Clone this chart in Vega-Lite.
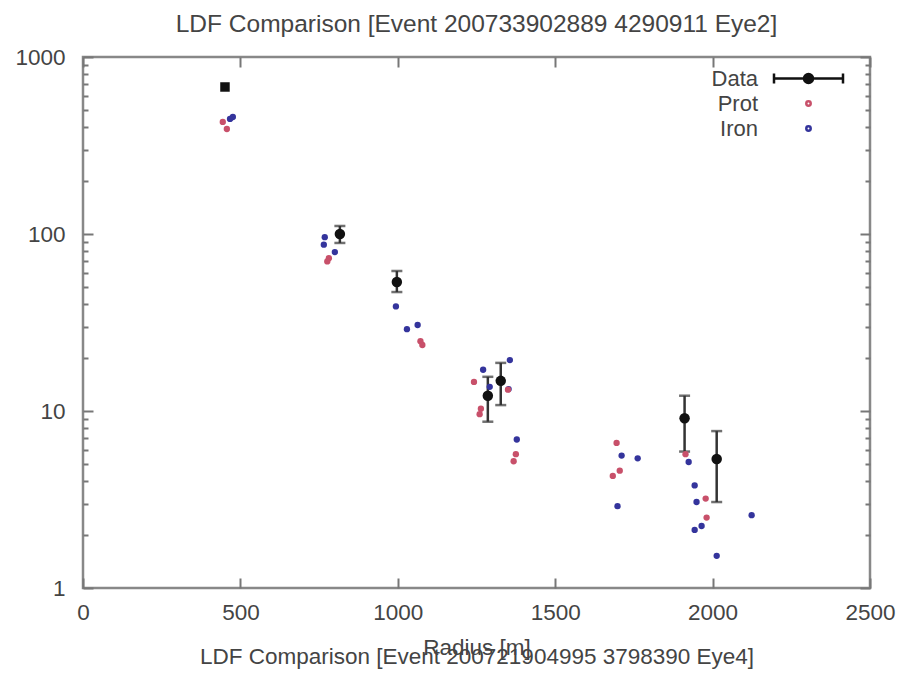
{
  "$schema": "https://vega.github.io/schema/vega-lite/v6.json",
  "width": 787,
  "height": 531,
  "autosize": {"type": "none"},
  "padding": {"left": 83, "top": 57, "right": 50, "bottom": 87},
  "background": "white",
  "title": {
    "text": "LDF Comparison [Event 200733902889 4290911 Eye2]",
    "font": "Liberation Sans",
    "fontSize": 24.5,
    "fontWeight": "normal",
    "color": "#444",
    "offset": 9
  },
  "config": {
    "view": {"stroke": "#888", "strokeWidth": 2.5},
    "axis": {
      "domain": false,
      "grid": false,
      "labelFont": "Liberation Sans",
      "labelFontSize": 22.5,
      "labelColor": "#444",
      "tickColor": "#777",
      "tickWidth": 2,
      "labelFlush": false,
      "labelOverlap": false,
      "titleFont": "Liberation Sans",
      "titleFontWeight": "normal",
      "titleColor": "#444",
      "titleFontSize": 22.5
    }
  },
  "datasets": {
    "ldf": [
      {"series": "Prot", "r": 444, "ldf": 430},
      {"series": "Prot", "r": 457, "ldf": 392},
      {"series": "Iron", "r": 467, "ldf": 447},
      {"series": "Iron", "r": 476, "ldf": 458},
      {"series": "Iron", "r": 768, "ldf": 96},
      {"series": "Iron", "r": 765, "ldf": 87},
      {"series": "Iron", "r": 800, "ldf": 79},
      {"series": "Prot", "r": 781, "ldf": 73},
      {"series": "Prot", "r": 776, "ldf": 70},
      {"series": "Iron", "r": 994, "ldf": 39},
      {"series": "Iron", "r": 1029, "ldf": 29},
      {"series": "Iron", "r": 1063, "ldf": 30.6},
      {"series": "Prot", "r": 1072, "ldf": 24.8},
      {"series": "Prot", "r": 1078, "ldf": 23.6},
      {"series": "Prot", "r": 1242, "ldf": 14.6},
      {"series": "Iron", "r": 1271, "ldf": 17.1},
      {"series": "Iron", "r": 1292, "ldf": 13.7},
      {"series": "Iron", "r": 1356, "ldf": 19.4},
      {"series": "Prot", "r": 1350, "ldf": 13.2},
      {"series": "Iron", "r": 1352, "ldf": 13.3},
      {"series": "Prot", "r": 1264, "ldf": 10.3},
      {"series": "Prot", "r": 1260, "ldf": 9.6},
      {"series": "Iron", "r": 1378, "ldf": 6.9},
      {"series": "Prot", "r": 1375, "ldf": 5.7},
      {"series": "Prot", "r": 1368, "ldf": 5.2},
      {"series": "Prot", "r": 1695, "ldf": 6.6},
      {"series": "Iron", "r": 1711, "ldf": 5.6},
      {"series": "Iron", "r": 1762, "ldf": 5.4},
      {"series": "Prot", "r": 1705, "ldf": 4.6},
      {"series": "Prot", "r": 1683, "ldf": 4.3},
      {"series": "Iron", "r": 1698, "ldf": 2.9},
      {"series": "Prot", "r": 1914, "ldf": 5.7},
      {"series": "Iron", "r": 1924, "ldf": 5.15},
      {"series": "Iron", "r": 1943, "ldf": 3.8},
      {"series": "Iron", "r": 1949, "ldf": 3.06},
      {"series": "Prot", "r": 1978, "ldf": 3.2},
      {"series": "Prot", "r": 1981, "ldf": 2.5},
      {"series": "Iron", "r": 1965, "ldf": 2.24},
      {"series": "Iron", "r": 1943, "ldf": 2.13},
      {"series": "Iron", "r": 2013, "ldf": 1.52},
      {"series": "Iron", "r": 2124, "ldf": 2.58},
      {"series": "Saturated", "r": 451, "ldf": 677},
      {"series": "Data", "r": 816, "ldf": 100, "lo": 89, "hi": 111},
      {"series": "Data", "r": 997, "ldf": 53.6, "lo": 47, "hi": 61.8},
      {"series": "Data", "r": 1286, "ldf": 12.2, "lo": 8.7, "hi": 15.6},
      {"series": "Data", "r": 1327, "ldf": 14.8, "lo": 10.8, "hi": 18.7},
      {"series": "Data", "r": 1911, "ldf": 9.1, "lo": 5.9, "hi": 12.2},
      {"series": "Data", "r": 2013, "ldf": 5.36, "lo": 3.06, "hi": 7.7}
    ]
  },
  "data": {"name": "ldf"},
  "layer": [
    {
      "transform": [{"filter": "datum.series === 'Data'"}],
      "mark": {"type": "rule", "color": "#333", "strokeWidth": 2.5},
      "encoding": {
        "x": {
          "field": "r", "type": "quantitative",
          "scale": {"domain": [0, 2500], "nice": false},
          "axis": {
            "orient": "bottom", "offset": 0,
            "values": [0, 500, 1000, 1500, 2000, 2500], "format": "d",
            "tickSize": -10, "labelPadding": 23,
            "title": ["Radius [m]", "LDF Comparison [Event 200721904995 3798390 Eye4]"],
            "titleLineHeight": 9, "titlePadding": 13
          }
        },
        "y": {
          "field": "lo", "type": "quantitative",
          "scale": {"type": "log", "domain": [1, 1000], "nice": false},
          "axis": {
            "orient": "left", "offset": 0,
            "values": [1, 10, 100, 1000], "format": "d",
            "tickSize": -10, "labelPadding": 28, "title": null
          }
        },
        "y2": {"field": "hi"}
      }
    },
    {
      "transform": [{"filter": "datum.series === 'Data'"}],
      "mark": {"type": "tick", "orient": "horizontal", "color": "#333", "size": 11, "thickness": 2.5},
      "encoding": {
        "x": {
          "field": "r", "type": "quantitative",
          "axis": {
            "orient": "top", "offset": 0,
            "values": [0, 500, 1000, 1500, 2000, 2500],
            "tickSize": -10, "labels": false, "title": null
          }
        },
        "y": {
          "field": "lo", "type": "quantitative",
          "axis": {
            "orient": "left", "offset": 0,
            "values": [2, 3, 4, 5, 6, 7, 8, 9, 20, 30, 40, 50, 60, 70, 80, 90, 200, 300, 400, 500, 600, 700, 800, 900],
            "tickSize": -5, "labels": false, "title": null
          }
        }
      }
    },
    {
      "transform": [{"filter": "datum.series === 'Data'"}],
      "mark": {"type": "tick", "orient": "horizontal", "color": "#333", "size": 11, "thickness": 2.5},
      "encoding": {
        "x": {"field": "r", "type": "quantitative", "axis": null},
        "y": {
          "field": "hi", "type": "quantitative",
          "axis": {
            "orient": "right", "offset": 0,
            "values": [1, 10, 100, 1000],
            "tickSize": -10, "labels": false, "title": null
          }
        }
      }
    },
    {
      "transform": [{"filter": "datum.series !== 'Saturated'"}],
      "mark": {"type": "point", "filled": true, "opacity": 1},
      "encoding": {
        "x": {"field": "r", "type": "quantitative", "axis": null},
        "y": {
          "field": "ldf", "type": "quantitative",
          "axis": {
            "orient": "right", "offset": 0,
            "values": [2, 3, 4, 5, 6, 7, 8, 9, 20, 30, 40, 50, 60, 70, 80, 90, 200, 300, 400, 500, 600, 700, 800, 900],
            "tickSize": -5, "labels": false, "title": null
          }
        },
        "fill": {
          "condition": [
            {"test": "datum.series === 'Prot'", "value": "#c8506a"},
            {"test": "datum.series === 'Iron'", "value": "#34349c"}
          ],
          "value": "#111111"
        },
        "size": {
          "condition": {"test": "datum.series === 'Data'", "value": 110},
          "value": 40
        },
        "order": {"field": "series", "sort": "ascending"}
      }
    },
    {
      "transform": [{"filter": "datum.series === 'LegendOnly'"}],
      "mark": {"type": "point", "filled": false, "opacity": 1, "strokeWidth": 2.5},
      "encoding": {
        "x": {"field": "r", "type": "quantitative", "axis": null},
        "y": {"field": "ldf", "type": "quantitative", "axis": null},
        "color": {
          "field": "series", "type": "nominal",
          "scale": {"domain": ["Data", "Prot", "Iron"], "range": ["#111111", "#c8506a", "#34349c"]},
          "legend": {
            "title": null,
            "orient": "none",
            "legendX": 714,
            "legendY": 10,
            "padding": 0,
            "symbolSize": 400,
            "symbolStrokeWidth": 2.5,
            "rowPadding": 2,
            "labelAlign": "right",
            "labelOffset": -62,
            "labelFont": "Liberation Sans",
            "labelFontSize": 22,
            "labelColor": "#444"
          }
        },
        "shape": {
          "field": "series", "type": "nominal",
          "scale": {
            "domain": ["Data", "Prot", "Iron"],
            "range": [
              "M-3.45,0H3.45M-3.45,-0.5V0.5M3.45,-0.5V0.5M0.1,0A0.1,0.1 0 1,1 -0.1,0A0.1,0.1 0 1,1 0.1,0M0.3,0A0.3,0.3 0 1,1 -0.3,0A0.3,0.3 0 1,1 0.3,0M0.45,0A0.45,0.45 0 1,1 -0.45,0A0.45,0.45 0 1,1 0.45,0",
              "M0.22,0A0.22,0.22 0 1,1 -0.22,0A0.22,0.22 0 1,1 0.22,0",
              "M0.22,0A0.22,0.22 0 1,1 -0.22,0A0.22,0.22 0 1,1 0.22,0"
            ]
          },
          "legend": {
            "title": null,
            "orient": "none",
            "legendX": 714,
            "legendY": 10,
            "padding": 0,
            "symbolSize": 400,
            "symbolStrokeWidth": 2.5,
            "rowPadding": 2,
            "labelAlign": "right",
            "labelOffset": -62,
            "labelFont": "Liberation Sans",
            "labelFontSize": 22,
            "labelColor": "#444"
          }
        }
      }
    },
    {
      "transform": [{"filter": "datum.series === 'Saturated'"}],
      "mark": {"type": "square", "color": "#111", "size": 90, "opacity": 1},
      "encoding": {
        "x": {"field": "r", "type": "quantitative", "axis": null},
        "y": {"field": "ldf", "type": "quantitative", "axis": null}
      }
    }
  ],
  "resolve": {"axis": {"x": "independent", "y": "independent"}}
}
